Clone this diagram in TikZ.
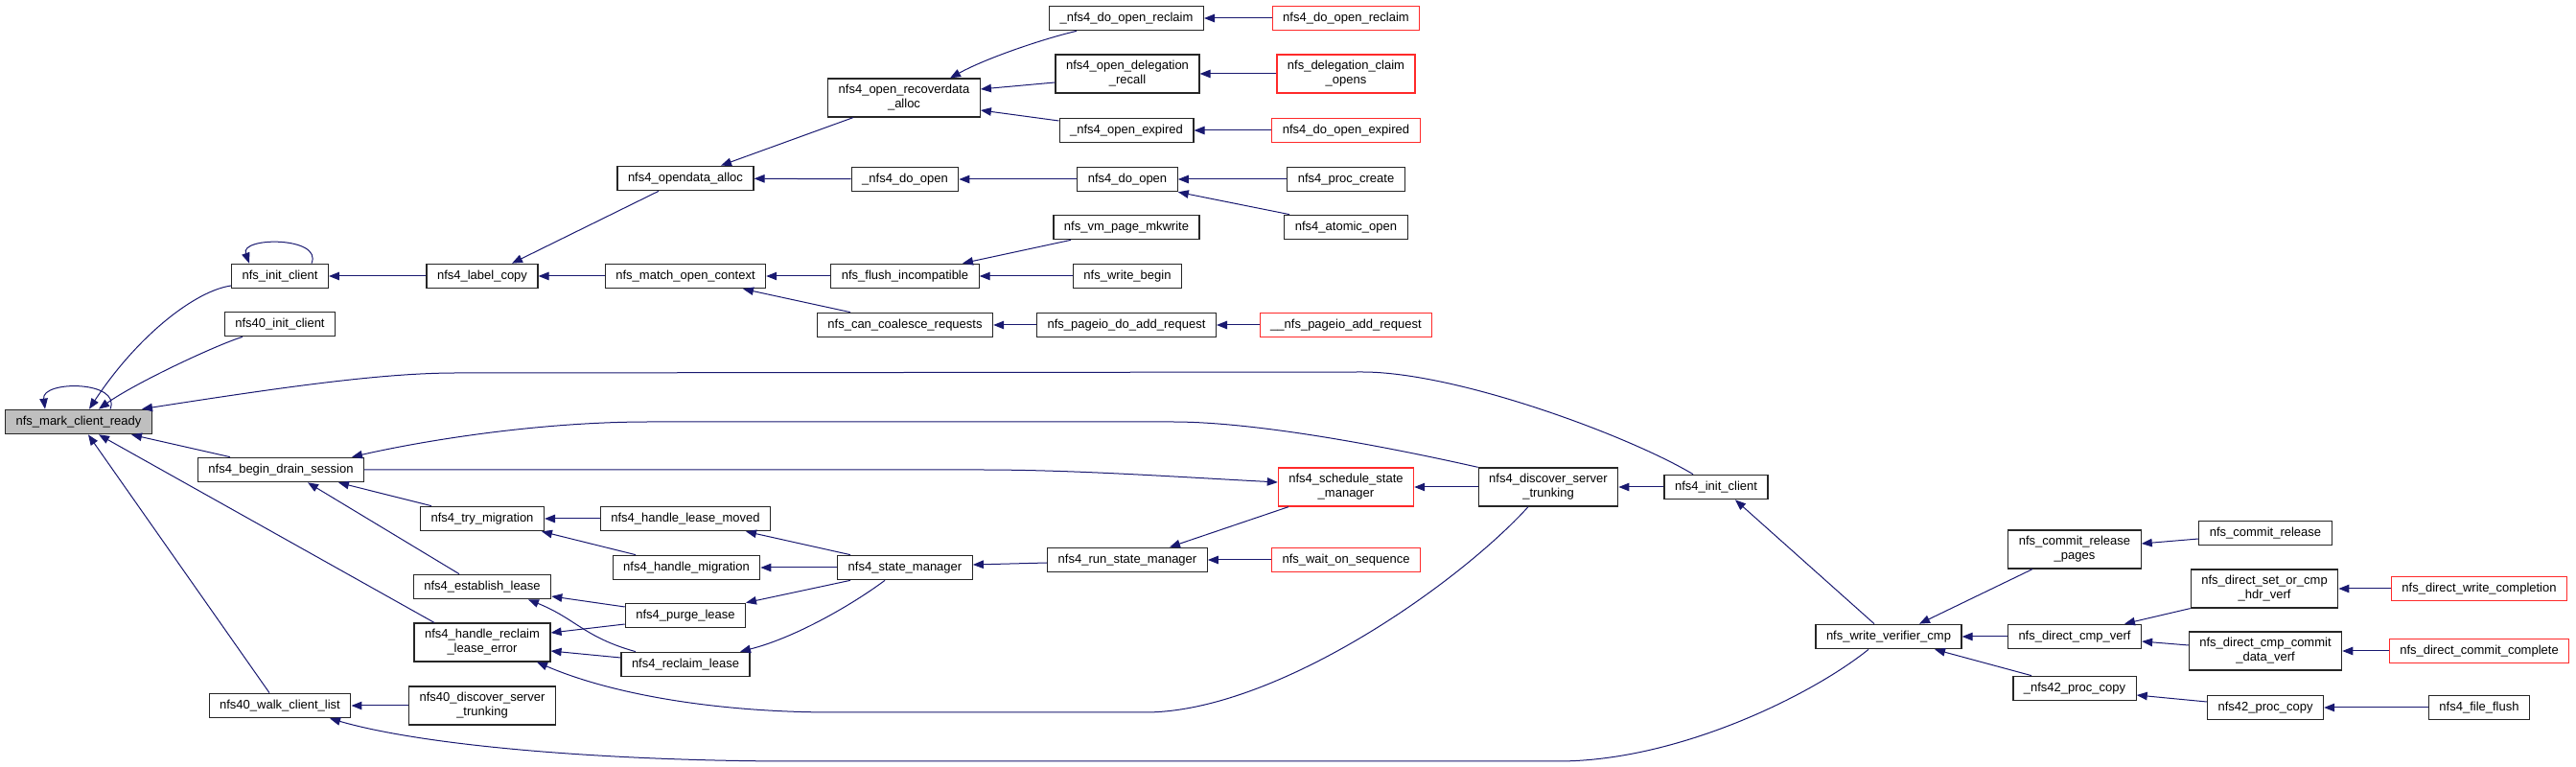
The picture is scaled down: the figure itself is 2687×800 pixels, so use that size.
\documentclass[tikz,border=0pt]{standalone}
\usepackage{fontspec}
\setmainfont{Liberation Sans}
\usepackage{tikz}
\usetikzlibrary{arrows.meta,positioning,calc}
\definecolor{edgeblue}{HTML}{191970}
\definecolor{fngray}{HTML}{BFBFBF}
\definecolor{fnred}{HTML}{FF2A2A}
\newcommand\fnfont{\fontsize{13}{15}\selectfont}
\tikzset{
  fnode/.style={rectangle, draw=black!85, line width=1.2pt, fill=white,
    font=\fnfont, align=center, inner xsep=11pt, inner ysep=6.5pt,
    minimum height=25.5pt},
  fnodered/.style={fnode, draw=fnred},
  fnoderoot/.style={fnode, fill=fngray},
  callarrow/.style={-{Triangle[length=11pt,width=8.5pt]}, edgeblue, line width=1pt}
}

\begin{document}
\begin{tikzpicture}[x=1pt, y=1pt]
        \useasboundingbox (0,0) rectangle (2687,800);
        \node[fnoderoot] (mark) at (82,360) {nfs\_mark\_client\_ready};
        \node[fnode] (initc) at (292,512) {nfs\_init\_client};
        \node[fnode] (init40) at (292,462) {nfs40\_init\_client};
        \node[fnode] (drain) at (293,310) {nfs4\_begin\_drain\_session};
        \node[fnode] (walk) at (292,64) {nfs40\_walk\_client\_list};
        \node[fnode] (label) at (503,512) {nfs4\_label\_copy};
        \node[fnode] (trymig) at (503,259) {nfs4\_try\_migration};
        \node[fnode] (estab) at (503,188) {nfs4\_establish\_lease};
        \node[fnode] (reclerr) at (503,130) {nfs4\_handle\_reclaim\\\_lease\_error};
        \node[fnode] (disc40) at (503,64) {nfs40\_discover\_server\\\_trunking};
        \node[fnode] (opendata) at (715,614) {nfs4\_opendata\_alloc};
        \node[fnode] (matchctx) at (715,512) {nfs\_match\_open\_context};
        \node[fnode] (moved) at (715,259) {nfs4\_handle\_lease\_moved};
        \node[fnode] (handlemig) at (716,208) {nfs4\_handle\_migration};
        \node[fnode] (purge) at (715,158) {nfs4\_purge\_lease};
        \node[fnode] (reclaim) at (715,107) {nfs4\_reclaim\_lease};
        \node[fnode] (recover) at (943,698) {nfs4\_open\_recoverdata\\\_alloc};
        \node[fnode] (doopenu) at (944,613) {\_nfs4\_do\_open};
        \node[fnode] (flush) at (944,512) {nfs\_flush\_incompatible};
        \node[fnode] (coalesce) at (944,461) {nfs\_can\_coalesce\_requests};
        \node[fnode] (statemgr) at (944,208) {nfs4\_state\_manager};
        \node[fnode] (reclaimu) at (1175,781) {\_nfs4\_do\_open\_reclaim};
        \node[fnode] (delegrec) at (1176,723) {nfs4\_open\_delegation\\\_recall};
        \node[fnode] (expiredu) at (1175,664) {\_nfs4\_open\_expired};
        \node[fnode] (doopen) at (1176,613) {nfs4\_do\_open};
        \node[fnode] (mkwrite) at (1175,563) {nfs\_vm\_page\_mkwrite};
        \node[fnode] (wbegin) at (1176,512) {nfs\_write\_begin};
        \node[fnode] (doadd) at (1175,461) {nfs\_pageio\_do\_add\_request};
        \node[fnode] (runstate) at (1176,216) {nfs4\_run\_state\_manager};
        \node[fnodered] (reclaimr) at (1404,781) {nfs4\_do\_open\_reclaim};
        \node[fnodered] (claim) at (1404,723) {nfs\_delegation\_claim\\\_opens};
        \node[fnodered] (expiredr) at (1404,664) {nfs4\_do\_open\_expired};
        \node[fnode] (create) at (1404,613) {nfs4\_proc\_create};
        \node[fnode] (atomic) at (1404,563) {nfs4\_atomic\_open};
        \node[fnodered] (addreq) at (1404,461) {\_\_nfs\_pageio\_add\_request};
        \node[fnodered] (sched) at (1404,292) {nfs4\_schedule\_state\\\_manager};
        \node[fnodered] (waitseq) at (1404,216) {nfs\_wait\_on\_sequence};
        \node[fnode] (disc4) at (1615,292) {nfs4\_discover\_server\\\_trunking};
        \node[fnode] (init4) at (1790,292) {nfs4\_init\_client};
        \node[fnode] (verif) at (1970,136) {nfs\_write\_verifier\_cmp};
        \node[fnode] (relpages) at (2164,227) {nfs\_commit\_release\\\_pages};
        \node[fnode] (cmpverf) at (2164,136) {nfs\_direct\_cmp\_verf};
        \node[fnode] (copyu) at (2164,82) {\_nfs42\_proc\_copy};
        \node[fnode] (release) at (2363,244) {nfs\_commit\_release};
        \node[fnode] (hdrverf) at (2362,186) {nfs\_direct\_set\_or\_cmp\\\_hdr\_verf};
        \node[fnode] (dataverf) at (2363,121) {nfs\_direct\_cmp\_commit\\\_data\_verf};
        \node[fnode] (copy) at (2363,62) {nfs42\_proc\_copy};
        \node[fnodered] (wcompl) at (2586,186) {nfs\_direct\_write\_completion};
        \node[fnodered] (ccompl) at (2586,121) {nfs\_direct\_commit\_complete};
        \node[fnode] (flushf) at (2586,62) {nfs4\_file\_flush};

        % callers of nfs_mark_client_ready
        \draw[callarrow] ([xshift=33pt]mark.north) .. controls +(12,30) and +(-4,30) .. ([xshift=-35pt]mark.north);
        \draw[callarrow] ([yshift=-10pt]initc.west) .. controls (205,497) and (145,452) .. ([xshift=11pt]mark.north);
        \draw[callarrow] ([xshift=-39pt]init40.south) .. controls (225,440) and (140,400) .. ([xshift=21pt]mark.north);
        \draw[callarrow] ([xshift=-24pt]init4.north) .. controls (1700,345) and (1520,412) .. (1421,412) -- (476,411) .. controls (400,411) and (300,397) .. ([xshift=66pt]mark.north);
        \draw[callarrow] ([xshift=-53pt]drain.north) -- ([xshift=55pt]mark.south);
        \draw[callarrow] ([xshift=-50pt]reclerr.north) -- ([xshift=21pt]mark.south);
        \draw[callarrow] ([xshift=-11pt]walk.north) -- ([xshift=10pt]mark.south);

        \draw[callarrow] (disc4.north west) .. controls (1420,340) and (1300,360) .. (1223,360) -- (677,360) .. controls (560,360) and (440,340) .. ([xshift=74pt]drain.north);
        \draw[callarrow] ([xshift=-53pt]trymig.north) -- ([xshift=60pt]drain.south);
        \draw[callarrow] ([xshift=-24pt]estab.north) -- ([xshift=28pt]drain.south);
        \draw[callarrow] (drain.east) -- (1022,310) .. controls (1120,310) and (1220,303) .. ([yshift=5pt]sched.west);
        \draw[callarrow] ([xshift=-60pt]sched.south) -- ([xshift=44pt]runstate.north);
        \draw[callarrow] (disc4) -- (sched);
        \draw[callarrow] (init4) -- (disc4);
        \draw[callarrow] ([xshift=-21pt]disc4.south) .. controls (1520,190) and (1330,57) .. (1194,57) -- (870,57) .. controls (750,57) and (640,75) .. ([xshift=57pt]reclerr.south);
        \draw[callarrow] ([xshift=-21pt]verif.south) .. controls (1890,75) and (1750,6) .. (1625,6) -- (830,6) .. controls (650,6) and (450,20) .. ([xshift=52pt]walk.south);
        \draw[callarrow] ([xshift=-15pt]verif.north) -- ([xshift=20pt]init4.south);
        \draw[callarrow] (disc40) -- (walk);

        \draw[callarrow] (moved) -- (trymig);
        \draw[callarrow] ([xshift=-53pt]handlemig.north) -- ([xshift=62pt]trymig.south);
        \draw[callarrow] ([xshift=-57pt]statemgr.north) -- ([xshift=63pt]moved.south);
        \draw[callarrow] (statemgr) -- (handlemig);
        \draw[callarrow] ([xshift=-57pt]statemgr.south) -- ([xshift=63pt]purge.north);
        \draw[callarrow] ([xshift=-21pt]statemgr.south) .. controls (890,170) and (830,135) .. ([xshift=57pt]reclaim.north);
        \draw[callarrow] ([yshift=9pt]purge.west) -- ([yshift=-10pt]estab.east);
        \draw[callarrow] ([yshift=-9pt]purge.west) -- ([yshift=10pt]reclerr.east);
        \draw[callarrow] ([xshift=-52pt]reclaim.north) .. controls (610,135) and (600,155) .. ([xshift=48pt]estab.south);
        \draw[callarrow] ([yshift=7pt]reclaim.west) -- ([yshift=-9pt]reclerr.east);
        \draw[callarrow] ([yshift=-3pt]runstate.west) -- ([yshift=3pt]statemgr.east);
        \draw[callarrow] (waitseq) -- (runstate);

        \draw[callarrow] (label) -- (initc);
        \draw[callarrow] ([xshift=33pt]initc.north) .. controls +(12,28) and +(-10,28) .. ([xshift=-32pt]initc.north);
        \draw[callarrow] ([xshift=-28pt]opendata.south) -- ([xshift=31pt]label.north);
        \draw[callarrow] (matchctx) -- (label);
        \draw[callarrow] ([xshift=-53pt]recover.south) -- ([xshift=37pt]opendata.north);
        \draw[callarrow] (doopenu) -- (opendata);
        \draw[callarrow] (flush) -- (matchctx);
        \draw[callarrow] ([xshift=-57pt]coalesce.north) -- ([xshift=60pt]matchctx.south);
        \draw[callarrow] ([xshift=-52pt]reclaimu.south) .. controls (1090,760) and (1030,740) .. ([xshift=48pt]recover.north);
        \draw[callarrow] ([yshift=-9pt]delegrec.west) -- ([yshift=9pt]recover.east);
        \draw[callarrow] ([yshift=10pt]expiredu.west) -- ([yshift=-13pt]recover.east);
        \draw[callarrow] (reclaimr) -- (reclaimu);
        \draw[callarrow] (claim) -- (delegrec);
        \draw[callarrow] (expiredr) -- (expiredu);
        \draw[callarrow] (doopen) -- (doopenu);
        \draw[callarrow] (create) -- (doopen);
        \draw[callarrow] ([xshift=-59pt]atomic.north) -- (doopen.south east);
        \draw[callarrow] ([xshift=-58pt]mkwrite.south) -- ([xshift=60pt]flush.north);
        \draw[callarrow] (wbegin) -- (flush);
        \draw[callarrow] (doadd) -- (coalesce);
        \draw[callarrow] (addreq) -- (doadd);

        \draw[callarrow] ([xshift=-44pt]relpages.south) -- ([xshift=32pt]verif.north);
        \draw[callarrow] (cmpverf) -- (verif);
        \draw[callarrow] ([xshift=-45pt]copyu.north) -- ([xshift=48pt]verif.south);
        \draw[callarrow] ([yshift=-6pt]release.west) -- ([yshift=6pt]relpages.east);
        \draw[callarrow] (hdrverf.south west) -- ([xshift=52pt]cmpverf.north);
        \draw[callarrow] ([yshift=6pt]dataverf.west) -- ([yshift=-5pt]cmpverf.east);
        \draw[callarrow] (wcompl) -- (hdrverf);
        \draw[callarrow] (ccompl) -- (dataverf);
        \draw[callarrow] ([yshift=6pt]copy.west) -- ([yshift=-7pt]copyu.east);
        \draw[callarrow] (flushf) -- (copy);
      \end{tikzpicture}
\end{document}
